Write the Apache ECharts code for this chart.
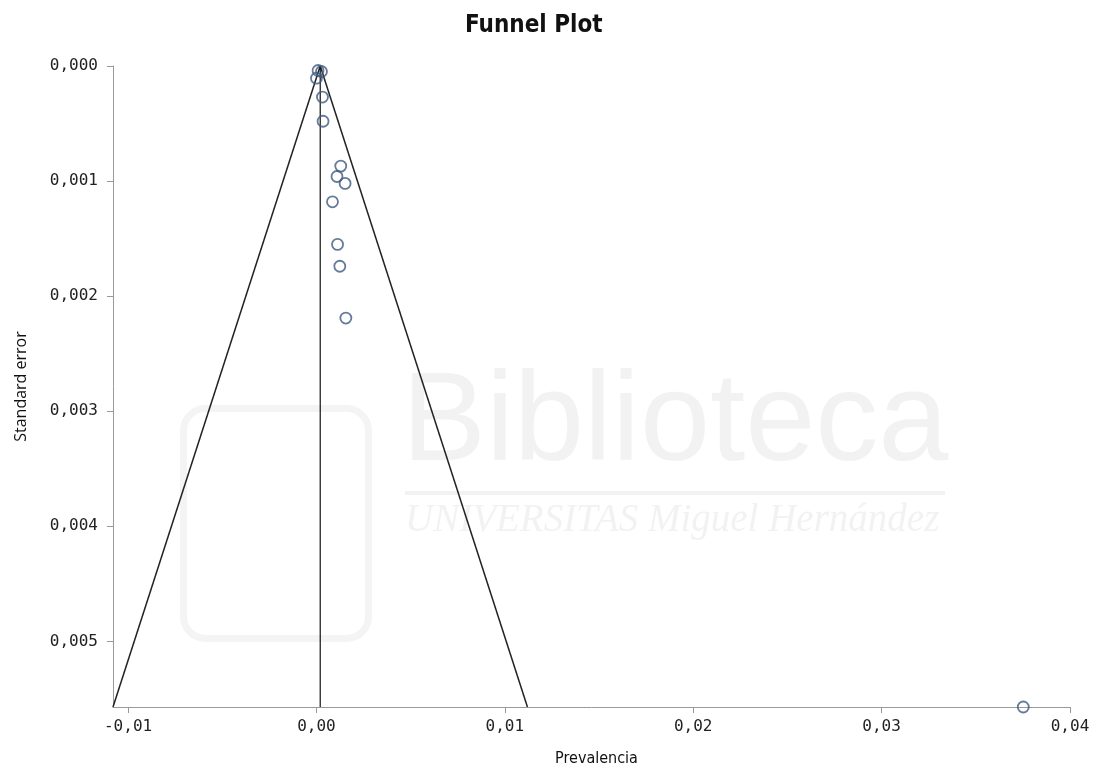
<!DOCTYPE html>
<html>
<head>
<meta charset="utf-8">
<script src="https://cdn.jsdelivr.net/npm/echarts@6/dist/echarts.min.js"></script>
<style>html,body{margin:0;padding:0;background:#fff}#c{width:1098px;height:774px}</style>
</head>
<body>
<div id="c"></div>
<script>
// Study points: [prevalence, standard error]
const studies = [
  [0.000085, 0.000039],
  [0.000266, 0.000048],
  [0.0000, 0.000106],
  [0.00032, 0.00027],
  [0.00035, 0.00048],
  [0.00129, 0.00087],
  [0.00109, 0.00096],
  [0.00152, 0.00102],
  [0.00085, 0.00118],
  [0.00112, 0.00155],
  [0.00124, 0.00174],
  [0.00156, 0.00219],
  [0.03752, 0.00557]
];
// Funnel boundaries and pooled estimate line
const funnelLeft = [[0.0002, 0], [-0.0108, 0.00557]];
const funnelRight = [[0.0002, 0], [0.0112, 0.00557]];
const pooledLine = [[0.0002, 0], [0.0002, 0.00557]];
const xTicks = [-0.01, 0, 0.01, 0.02, 0.03, 0.04];
const yTicks = [0, 0.001, 0.002, 0.003, 0.004, 0.005];
const xRange = [-0.0108, 0.04];
const yRange = [0, 0.00557];

const chart = echarts.init(document.getElementById('c'), null, {renderer: 'canvas'});
const monoFont = "'DejaVu Sans Mono', monospace";
chart.setOption({
  animation: false,
  backgroundColor: '#ffffff',
  title: {
    text: 'Funnel Plot',
    left: 460, top: 9,
    textStyle: {fontFamily: "'DejaVu Sans Condensed', 'DejaVu Sans'", fontWeight: 'bold', fontSize: 24, color: '#111'}
  },
  graphic: [
    {type: 'text', left: 402, top: 362, z: -10, silent: true,
     style: {text: 'Biblioteca', font: "126px 'Liberation Sans Narrow', 'Liberation Sans'", fill: '#f2f2f2'}},
    {type: 'rect', left: 405, top: 491, z: -10, silent: true,
     shape: {width: 540, height: 4}, style: {fill: '#f2f2f2'}},
    {type: 'text', left: 405, top: 501, z: -10, silent: true,
     style: {text: 'UNIVERSITAS Miguel Hernández', font: "italic 39px 'Liberation Serif'", fill: '#f2f2f2'}},
    {type: 'rect', left: 180, top: 405, z: -10, silent: true,
     shape: {width: 185, height: 230, r: 22}, style: {fill: 'none', stroke: '#f4f4f4', lineWidth: 7}}
  ],
  grid: {left: 113, right: 28, top: 66, bottom: 67, containLabel: false},
  xAxis: {
    type: 'value', min: xRange[0], max: xRange[1],
    name: 'Prevalencia', nameLocation: 'middle', nameGap: 44,
    nameTextStyle: {fontFamily: "'DejaVu Sans Condensed', 'DejaVu Sans'", fontSize: 16, color: '#111', padding: [0, 0, 0, 10]},
    axisLine: {show: true, onZero: false, lineStyle: {color: '#9a9a9a', width: 1}},
    axisTick: {show: true, inside: false, length: 6, customValues: xTicks, lineStyle: {color: '#9a9a9a'}},
    axisLabel: {customValues: xTicks, margin: 12, fontFamily: monoFont, fontSize: 16, color: '#222',
      formatter: v => v.toFixed(2).replace('.', ',')},
    splitLine: {show: false}
  },
  yAxis: {
    type: 'value', inverse: true, min: yRange[0], max: yRange[1],
    name: 'Standard error', nameLocation: 'middle', nameGap: 84,
    nameTextStyle: {fontFamily: "'Open Sans', 'Noto Sans'", fontSize: 16, color: '#111'},
    axisLine: {show: true, onZero: false, lineStyle: {color: '#9a9a9a', width: 1}},
    axisTick: {show: true, inside: false, length: 6, customValues: yTicks, lineStyle: {color: '#9a9a9a'}},
    axisLabel: {customValues: yTicks, margin: 15, fontFamily: monoFont, fontSize: 16, color: '#222',
      formatter: v => v.toFixed(3).replace('.', ',')},
    splitLine: {show: false}
  },
  series: [
    {type: 'line', data: funnelLeft, symbol: 'none', lineStyle: {color: '#222', width: 1.5}, z: 2},
    {type: 'line', data: funnelRight, symbol: 'none', lineStyle: {color: '#222', width: 1.5}, z: 2},
    {type: 'line', data: pooledLine, symbol: 'none', lineStyle: {color: '#111', width: 1.2}, z: 2},
    {type: 'scatter', data: studies, symbol: 'circle', symbolSize: 11, z: 3,
     itemStyle: {color: 'rgba(255,255,255,0)', borderColor: '#3f5a80', borderWidth: 1.8}}
  ]
});
</script>
</body>
</html>
